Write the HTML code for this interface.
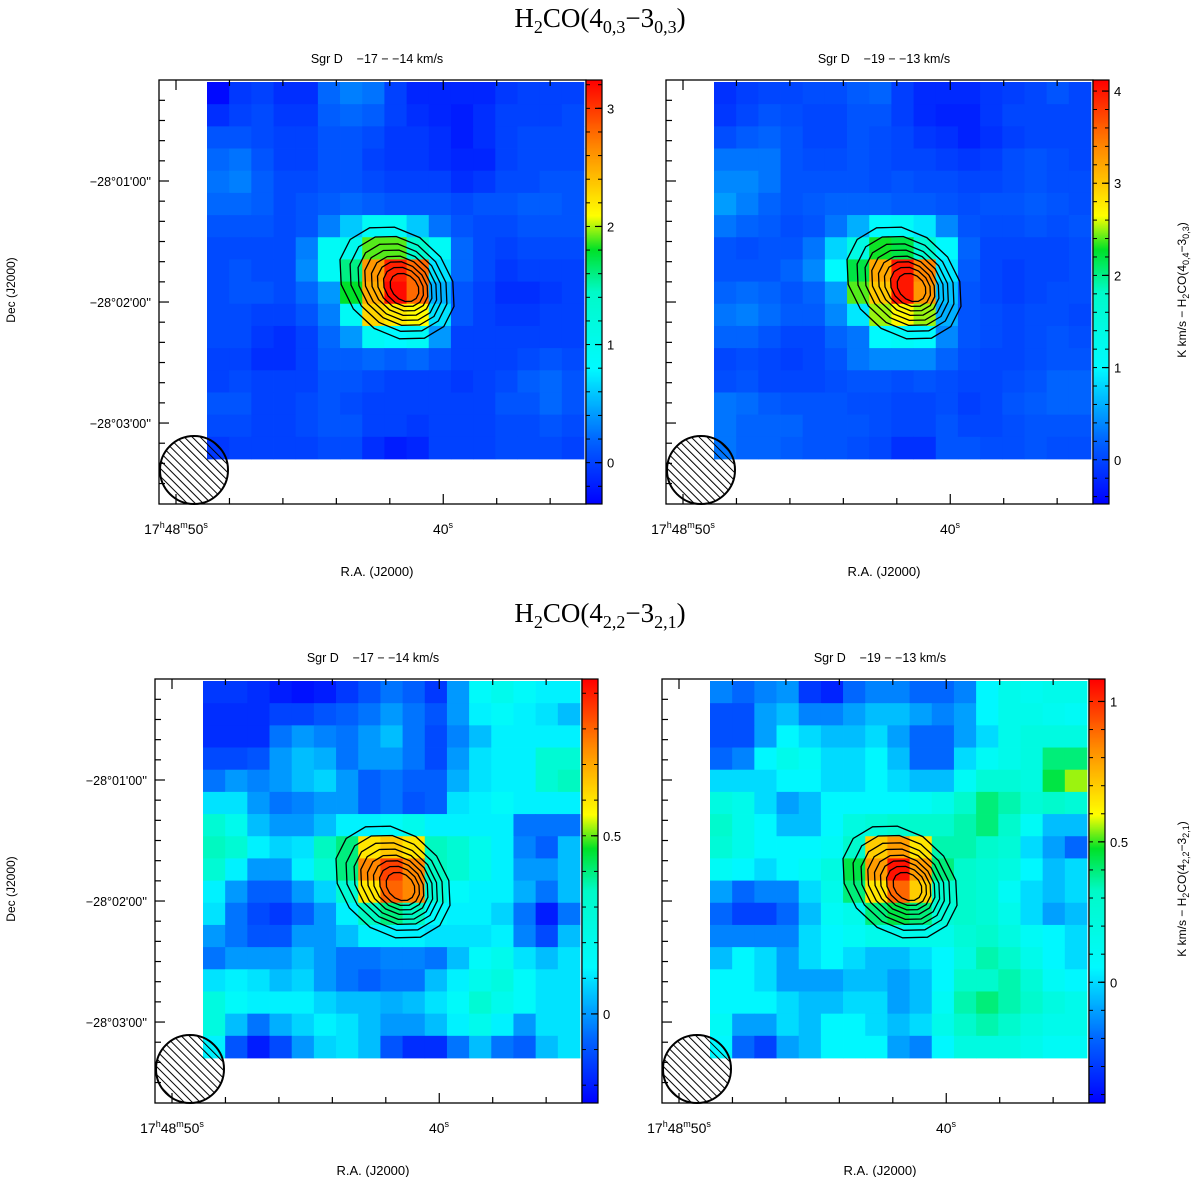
<!DOCTYPE html>
<html><head><meta charset="utf-8"><style>
html,body{margin:0;padding:0;background:#fff;}
svg{display:block;}
text{font-family:"Liberation Sans",sans-serif;fill:#000;}
.serif{font-family:"Liberation Serif",serif;}
.pre{white-space:pre;}
</style></head><body>
<svg id="fig" width="1200" height="1177" viewBox="0 0 1200 1177" xmlns="http://www.w3.org/2000/svg">
<defs>
<pattern id="hatch" patternUnits="userSpaceOnUse" width="5.6" height="5.6" patternTransform="rotate(-45)">
<line x1="0" y1="0" x2="0" y2="5.6" stroke="#000" stroke-width="2"/>
</pattern>
</defs>
<text class="serif" x="600" y="27" font-size="27" text-anchor="middle">H<tspan font-size="18" dy="6">2</tspan><tspan dy="-6">CO(4</tspan><tspan font-size="18" dy="6">0,3</tspan><tspan dy="-6">−3</tspan><tspan font-size="18" dy="6">0,3</tspan><tspan dy="-6">)</tspan></text>
<text class="serif" x="600" y="622" font-size="27" text-anchor="middle">H<tspan font-size="18" dy="6">2</tspan><tspan dy="-6">CO(4</tspan><tspan font-size="18" dy="6">2,2</tspan><tspan dy="-6">−3</tspan><tspan font-size="18" dy="6">2,1</tspan><tspan dy="-6">)</tspan></text>
<text x="0" y="0" font-size="12" text-anchor="middle" transform="translate(15,290) rotate(-90)">Dec (J2000)</text>
<text x="0" y="0" font-size="12" text-anchor="middle" transform="translate(15,889) rotate(-90)">Dec (J2000)</text>
<text x="0" y="0" font-size="12" text-anchor="middle" transform="translate(1186,290) rotate(-90)">K km/s − H<tspan font-size="9" dy="3">2</tspan><tspan dy="-3">CO(4</tspan><tspan font-size="9" dy="3">0,4</tspan><tspan dy="-3">−3</tspan><tspan font-size="9" dy="3">0,3</tspan><tspan dy="-3">)</tspan></text>
<text x="0" y="0" font-size="12" text-anchor="middle" transform="translate(1186,889) rotate(-90)">K km/s − H<tspan font-size="9" dy="3">2</tspan><tspan dy="-3">CO(4</tspan><tspan font-size="9" dy="3">2,2</tspan><tspan dy="-3">−3</tspan><tspan font-size="9" dy="3">2,1</tspan><tspan dy="-3">)</tspan></text>
</svg>
<script>
// ===== data =====
const gridTL = [
[-0.3,-0.05,0,-0.1,-0.1,0.2,0.3,0.25,0,-0.15,-0.15,-0.15,-0.15,-0.05,0,0,0],
[-0.1,0,0.05,-0.05,-0.05,0.15,0.2,0.15,0,-0.1,-0.15,-0.2,-0.1,0,0,0,0.05],
[0.1,0.1,0.05,0,0,0.1,0.1,0.05,-0.05,-0.05,-0.1,-0.2,-0.1,0,0.05,0.05,0.05],
[0.2,0.25,0.1,0,0,0.1,0.1,0,-0.05,-0.05,-0.1,-0.15,-0.15,0,0.05,0.05,0.05],
[0.25,0.3,0.15,0.05,0.05,0.1,0.1,0.05,0,0,0,-0.1,-0.05,0.05,0.05,0.1,0.1],
[0.2,0.2,0.15,0.05,0.1,0.15,0.2,0.15,0.1,0.1,0.1,0.05,0.1,0.1,0.15,0.15,0.1],
[0.1,0.1,0.1,0.05,0.1,0.3,0.6,0.9,0.9,0.6,0.25,0.1,0.05,0.05,0.1,0.1,0.1],
[0.05,0.05,0.05,0.05,0.3,0.9,1.0,1.9,1.9,1.4,0.9,0.2,0.05,0,0.05,0.05,0.05],
[0.05,0.1,0.05,0.05,0.35,0.9,1.6,2.6,3.1,2.8,0.7,0.2,0.05,-0.05,0,0,0],
[0.05,0.1,0.1,0.05,0.2,0.4,1.8,2.5,3.2,2.8,0.5,0.1,0,-0.1,-0.1,-0.05,0],
[0.05,0.05,0,0,0.1,0.3,0.9,2.3,2.2,2.1,0.7,0.1,0,-0.05,-0.05,0,0],
[0.05,0.05,-0.05,-0.1,0,0.2,0.4,0.9,0.8,0.9,0.4,0,0,0,0,0,0],
[0,0,-0.1,-0.1,0,0.15,0.15,0.2,0.15,0.2,0.1,0,0,0,0.05,0.1,0.05],
[0,0.05,0,0,0,0.1,0.1,0.05,0,0,0,-0.05,0,0.05,0.15,0.2,0.1],
[0.1,0.1,0,0,0.05,0.1,0.05,0,0,0,0,0,0,0.1,0.1,0.2,0.1],
[0.05,0.05,0,0,0.05,0.1,0.1,0,0,-0.05,0,0,0,0.05,0.05,0.1,0.05],
[-0.05,0,0,0,0,0.05,0.05,-0.1,-0.2,-0.15,0,0,0,0.05,0.05,0.05,0]];
const gridTR = [
[-0.15,-0.05,0,0,0.05,0.05,0.15,0.2,-0.05,-0.2,-0.2,-0.2,-0.1,-0.05,0,0.1,0],
[-0.1,0,0.1,0.05,0,0,0.1,0.1,-0.05,-0.2,-0.25,-0.25,-0.1,0,0,0,0],
[0.05,0.15,0.2,0.1,0,0,0.1,0.05,0,-0.1,-0.15,-0.25,-0.15,-0.05,0,0,0],
[0.3,0.3,0.3,0.1,0.05,0.05,0.1,0.05,0,0,-0.05,-0.1,-0.05,0.05,0.1,0.05,0],
[0.4,0.4,0.3,0.1,0.1,0.1,0.1,0.05,0.1,0.05,0.05,0,0,0.05,0.1,0.05,0.05],
[0.5,0.35,0.2,0.1,0.15,0.2,0.2,0.2,0.15,0.15,0.1,0.05,0.1,0.1,0.15,0.1,0.05],
[0.3,0.2,0.15,0.05,0.1,0.3,0.6,1.0,1.1,0.9,0.4,0.1,0.05,0.05,0.1,0.05,0.1],
[0.1,0.05,0.1,0.1,0.3,0.8,1.4,2.3,2.2,1.7,1.0,0.2,0,0,0,0,0.05],
[0.1,0.1,0.1,0.2,0.4,1.0,2.2,3.2,4.0,3.4,0.9,0.15,0,-0.05,0,0,0.05],
[0.2,0.25,0.2,0.1,0.2,0.5,2.4,3.0,4.0,3.3,0.7,0.1,0,-0.05,0,0.05,0.05],
[0.3,0.35,0.25,0.15,0.15,0.4,0.9,2.5,2.7,2.5,0.6,0.1,0.05,0,0.05,0.05,0],
[0.2,0.2,0.1,0,0,0.2,0.3,1.0,1.1,1.0,0.4,0.1,0.05,0,0.05,0.1,0.05],
[0,0.05,0,-0.05,0,0.1,0.3,0.4,0.4,0.4,0.2,0.05,0,0,0.05,0.1,0.1],
[0.05,0.1,0,0,0,0.05,0.1,0.1,0.05,0.1,0.05,0,0,0.05,0.1,0.2,0.2],
[0.3,0.25,0.15,0.1,0.1,0.1,0.05,0.05,0,0,0.05,-0.05,0,0.1,0.15,0.2,0.2],
[0.3,0.2,0.2,0.2,0.1,0.1,0.1,0.05,0,0,0.1,0,0,0.05,0.1,0.1,0.1],
[0.3,0.2,0.2,0.15,0.1,0.1,0.05,0,-0.15,-0.15,0.1,0.1,0.05,0.05,0.1,0.05,0.05]];
const gridBL = [
[-0.15,-0.15,-0.17,-0.2,-0.22,-0.2,-0.15,-0.1,-0.05,-0.08,-0.15,0,0.15,0.2,0.15,0.12,0.12],
[-0.17,-0.17,-0.17,-0.13,-0.13,-0.1,-0.08,-0.05,0,-0.05,-0.1,0,0.12,0.15,0.12,0.1,0.05],
[-0.17,-0.17,-0.17,-0.05,0,-0.03,-0.05,0,0.05,-0.05,-0.12,-0.03,0.05,0.12,0.12,0.12,0.12],
[-0.12,-0.12,-0.1,0,0.05,0.03,-0.05,0,0,-0.05,-0.12,0,0.1,0.12,0.12,0.3,0.3],
[-0.05,0,-0.03,0,0.05,0.08,0,-0.08,-0.05,-0.08,-0.08,0.03,0.1,0.12,0.12,0.3,0.35],
[0.1,0.1,0,-0.05,-0.03,0,0,-0.08,-0.05,-0.1,-0.08,0.1,0.12,0.15,0.12,0.12,0.12],
[0.3,0.2,0.05,0,0,0.05,0.12,0.12,0.15,0.2,0.12,0.12,0.12,0.12,-0.05,-0.05,-0.05],
[0.35,0.3,0.12,0.08,0.1,0.35,0.4,0.6,0.65,0.6,0.35,0.3,0.2,0.12,-0.03,-0.08,0.05],
[0.3,0.12,0,0,0.12,0.3,0.4,0.75,0.85,0.75,0.35,0.3,0.2,0.12,0,0,0.05],
[0.12,0,-0.08,-0.08,0,0.08,0.3,0.6,0.8,0.75,0.3,0.15,0.12,0.12,0.03,-0.05,0.05],
[0.1,-0.05,-0.12,-0.15,-0.08,0,0.12,0.35,0.4,0.35,0.15,0.12,0.12,0.08,-0.05,-0.2,-0.05],
[0,-0.05,-0.1,-0.1,0,0,0.05,0.12,0.12,0.12,0.1,0.1,0.1,0.12,-0.03,-0.12,0.05],
[-0.05,0,0,0,0.05,0,-0.05,-0.05,-0.03,-0.03,-0.05,0.05,0.15,0.2,0.1,0.05,0.1],
[0.1,0.12,0.1,0.05,0.08,0,-0.05,-0.08,-0.05,-0.05,0.05,0.12,0.2,0.25,0.15,0.1,0.1],
[0.25,0.15,0.12,0.12,0.12,0.08,0.05,0.05,0.03,0.05,0.1,0.15,0.3,0.2,0.15,0.1,0.1],
[0.25,0.05,-0.05,0.03,0.08,0.12,0.1,0.05,0,0,0.05,0.12,0.2,0.12,0,0.1,0.1],
[0.12,-0.1,-0.2,-0.12,0,0.08,0.1,0.05,-0.1,-0.17,-0.17,-0.05,0.05,-0.05,-0.08,0.05,0.1]];
const gridBR = [
[-0.15,-0.2,-0.15,-0.12,-0.3,-0.35,-0.2,-0.15,-0.15,-0.2,-0.2,-0.15,0.05,0.15,0.12,0.15,0.15],
[-0.25,-0.25,-0.1,-0.05,-0.15,-0.15,-0.1,-0.05,-0.05,-0.1,-0.15,-0.1,0.05,0.15,0.15,0.12,0.1],
[-0.25,-0.25,-0.1,0.05,0,-0.05,-0.05,0,-0.1,-0.2,-0.2,-0.1,0,0.15,0.2,0.2,0.2],
[-0.2,-0.15,0.05,0.15,0.1,0,0,0.05,-0.05,-0.2,-0.2,0,0.1,0.15,0.2,0.4,0.4],
[0,0,0,0.05,0.05,0,0,0.05,0,-0.05,-0.05,0.1,0.25,0.25,0.2,0.45,0.55],
[0.2,0.15,0,-0.1,-0.05,0.05,0.05,0.05,0.05,0.1,0.15,0.3,0.4,0.35,0.25,0.3,0.25],
[0.3,0.15,0.05,-0.05,-0.05,0.05,0.2,0.25,0.3,0.3,0.3,0.35,0.4,0.3,0.1,-0.05,-0.05],
[0.25,0.15,0.05,0.05,0.05,0.1,0.3,0.7,0.8,0.65,0.35,0.35,0.3,0.25,0,-0.1,-0.2],
[0.1,0.05,0,0.05,0.1,0.2,0.45,0.8,1.05,0.8,0.4,0.3,0.25,0.2,0.05,-0.05,0],
[-0.1,-0.2,-0.15,-0.15,0,0.15,0.4,0.65,0.9,0.7,0.3,0.3,0.25,0.1,0,-0.05,0],
[-0.2,-0.28,-0.28,-0.2,-0.05,0.1,0.15,0.4,0.45,0.4,0.25,0.3,0.25,0.15,0,-0.1,-0.05],
[-0.15,-0.15,-0.15,-0.15,0,0.05,0.1,0.15,0.15,0.15,0.15,0.25,0.3,0.2,0.1,0.05,0],
[-0.05,0.05,0,-0.1,0,0.05,0,-0.05,-0.05,0,0.05,0.2,0.35,0.3,0.15,0.05,0],
[0.05,0.05,0,-0.1,-0.1,-0.1,-0.05,-0.05,-0.1,-0.05,0.05,0.3,0.3,0.35,0.25,0.1,0.05],
[0.05,0.05,0.05,0,-0.05,-0.05,0,0,-0.1,-0.05,0.1,0.35,0.4,0.35,0.3,0.2,0.15],
[0.1,-0.1,-0.1,0,-0.05,0.05,0.05,0,-0.05,0,0.15,0.3,0.35,0.3,0.2,0.15,0.15],
[0.05,-0.2,-0.28,-0.1,-0.05,0.05,0.05,0.05,-0.1,-0.15,0.05,0.2,0.2,0.2,0.15,0.1,0.1]];
const colorRangeTL = [-0.35, 3.24];
const colorRangeTR = [-0.48, 4.12];
const colorRangeBL = [-0.25, 0.94];
const colorRangeBR = [-0.43, 1.08];
const cbarLabelsTL = [0, 1, 2, 3];
const cbarLabelsTR = [0, 1, 2, 3, 4];
const cbarLabelsBL = [0, 0.5];
const cbarLabelsBR = [0, 0.5, 1];
const decLabels = ["−28°01'00''", "−28°02'00''", "−28°03'00''"];
const contourScales = [1, 0.85, 0.73, 0.63, 0.53, 0.44, 0.35, 0.25];

// ===== rendering =====
const NS = "http://www.w3.org/2000/svg";
const svg = document.getElementById("fig");
function mk(tag, attrs, parent) {
  const e = document.createElementNS(NS, tag);
  for (const k in attrs) e.setAttribute(k, attrs[k]);
  (parent || svg).appendChild(e);
  return e;
}
const stops = [[0,[0,0,255]],[0.15,[0,100,255]],[0.32,[0,250,255]],[0.5,[0,250,200]],[0.6,[0,225,40]],[0.68,[255,255,0]],[0.83,[255,145,0]],[1,[255,0,0]]];
function cmap(f) {
  f = Math.max(0, Math.min(1, f));
  for (let i = 1; i < stops.length; i++) {
    if (f <= stops[i][0]) {
      const a = stops[i-1], b = stops[i], t = (f - a[0]) / (b[0] - a[0]);
      const c = a[1].map((v, j) => Math.round(v + (b[1][j] - v) * t));
      return `rgb(${c[0]},${c[1]},${c[2]})`;
    }
  }
  return "rgb(255,0,0)";
}
function fmt(v){ return String(v); }

function drawPanel(name, ox, oy, grid, range, cbLabels, cbMinor, subtitle, showDec) {
  const FW = 427, FH = 424, IX = 48, IY = 2, IS = 377;
  const g = mk("g", {});
  
  
  const n = grid.length, m = grid[0].length;
  const cw = IS / m, ch = IS / n;
  const frac = v => (v - range[0]) / (range[1] - range[0]);
  const cells = mk("g", {}, g);
  
  
  for (let r = 0; r < n; r++) for (let c = 0; c < m; c++) {
    const rc = mk("rect", {x: (ox+IX+c*cw).toFixed(2), y: (oy+IY+r*ch).toFixed(2), width: (cw+0.4).toFixed(2), height: (ch+0.4).toFixed(2), fill: cmap(frac(grid[r][c]))}, cells);
    
    
  }
  const cg = mk("g", {fill: "none", stroke: "#000", "stroke-width": 1.3}, g);
  
  
  const cx0 = ox + IX + 190, cy0 = oy + IY + 201;
  contourScales.forEach((s, i) => {
    const rx = 64 * s, ry = 50 * s;
    const dx = (1 - s) * 10, dy = (1 - s) * 6;
    const pts = [];
    for (let k = 0; k < 14; k++) {
      const a = k / 14 * Math.PI * 2;
      const x = rx * Math.cos(a), y = ry * Math.sin(a);
      const th = 0.75;
      pts.push(((cx0+dx) + x*Math.cos(th) - y*Math.sin(th)).toFixed(1) + "," + ((cy0+dy) + x*Math.sin(th) + y*Math.cos(th)).toFixed(1));
    }
    const p = mk("polygon", {points: pts.join(" ")}, cg);
    
    
  });
  const bcx = ox + 35, bcy = oy + 390;
  const bh = mk("circle", {cx: bcx, cy: bcy, r: 34, fill: "url(#hatch)", stroke: "#000", "stroke-width": 2}, g);
  
  
  const fr = mk("rect", {x: ox, y: oy, width: FW, height: FH, fill: "none", stroke: "#000", "stroke-width": 1.3}, g);
  
  
  for (let k = 0; k < 8; k++) {
    const x = ox + 17 + k * 53.45;
    const big = (k === 0 || k === 5);
    const L = big ? 10 : 6;
    mk("line", {x1: x, y1: oy + FH, x2: x, y2: oy + FH - L, stroke: "#000", "stroke-width": 1.2}, g);
    mk("line", {x1: x, y1: oy, x2: x, y2: oy + L, stroke: "#000", "stroke-width": 1.2}, g);
  }
  for (let k = -5; k <= 16; k++) {
    const y = oy + 101 + k * 20.17;
    if (y < oy + 2 || y > oy + FH - 2) continue;
    const big = (k % 6 === 0);
    mk("line", {x1: ox, y1: y, x2: ox + (big ? 10 : 6), y2: y, stroke: "#000", "stroke-width": 1.2}, g);
  }
  if (showDec) {
    decLabels.forEach((t, i) => {
      const tx = mk("text", {x: ox - 8, y: oy + 101 + i * 121 + 5, "font-size": 12.5, "text-anchor": "end"}, g);
      tx.textContent = t;
      
      
    });
  }
  const xl1 = mk("text", {x: ox + 17, y: oy + FH + 30, "font-size": 14, "text-anchor": "middle"}, g);
  xl1.innerHTML = '17<tspan font-size="9" dy="-6">h</tspan><tspan dy="6">48</tspan><tspan font-size="9" dy="-6">m</tspan><tspan dy="6">50</tspan><tspan font-size="9" dy="-6">s</tspan>';
  
  
  const xl2 = mk("text", {x: ox + 284, y: oy + FH + 30, "font-size": 14, "text-anchor": "middle"}, g);
  xl2.innerHTML = '40<tspan font-size="9" dy="-6">s</tspan>';
  
  
  const xt = mk("text", {x: ox + 218, y: oy + FH + 72, "font-size": 13, "text-anchor": "middle"}, g);
  xt.textContent = "R.A. (J2000)";
  
  
  const st = mk("text", {x: ox + 218, y: oy - 17, "font-size": 12.5, "text-anchor": "middle", "class": "pre"}, g);
  st.textContent = subtitle;
  
  
  const cb = mk("g", {}, g);
  
  
  const cbx = ox + FW, cbw = 16;
  for (let i = 0; i < FH; i++) {
    mk("rect", {x: cbx, y: oy + FH - i - 1, width: cbw, height: 1.2, fill: cmap((i + 0.5) / FH)}, cb);
  }
  mk("rect", {x: cbx, y: oy, width: cbw, height: FH, fill: "none", stroke: "#000", "stroke-width": 1.2}, cb);
  const vy = v => oy + FH - (v - range[0]) / (range[1] - range[0]) * FH;
  for (let v = Math.ceil(range[0] / cbMinor) * cbMinor; v <= range[1]; v += cbMinor) {
    const y = vy(v);
    mk("line", {x1: cbx, y1: y, x2: cbx + 4, y2: y, stroke: "#000", "stroke-width": 1}, cb);
    mk("line", {x1: cbx + cbw - 4, y1: y, x2: cbx + cbw, y2: y, stroke: "#000", "stroke-width": 1}, cb);
  }
  cbLabels.forEach(v => {
    const y = vy(v);
    mk("line", {x1: cbx + cbw - 7, y1: y, x2: cbx + cbw, y2: y, stroke: "#000", "stroke-width": 1.2}, cb);
    const t = mk("text", {x: cbx + cbw + 5, y: y + 5, "font-size": 13}, cb);
    t.textContent = fmt(v);
    
    
  });
}
drawPanel("panel-top-left", 159, 80, gridTL, colorRangeTL, cbarLabelsTL, 0.2, "Sgr D    −17 − −14 km/s", true);
drawPanel("panel-top-right", 666, 80, gridTR, colorRangeTR, cbarLabelsTR, 0.2, "Sgr D    −19 − −13 km/s", false);
drawPanel("panel-bottom-left", 155, 679, gridBL, colorRangeBL, cbarLabelsBL, 0.1, "Sgr D    −17 − −14 km/s", true);
drawPanel("panel-bottom-right", 662, 679, gridBR, colorRangeBR, cbarLabelsBR, 0.1, "Sgr D    −19 − −13 km/s", false);
</script>
</body></html>
